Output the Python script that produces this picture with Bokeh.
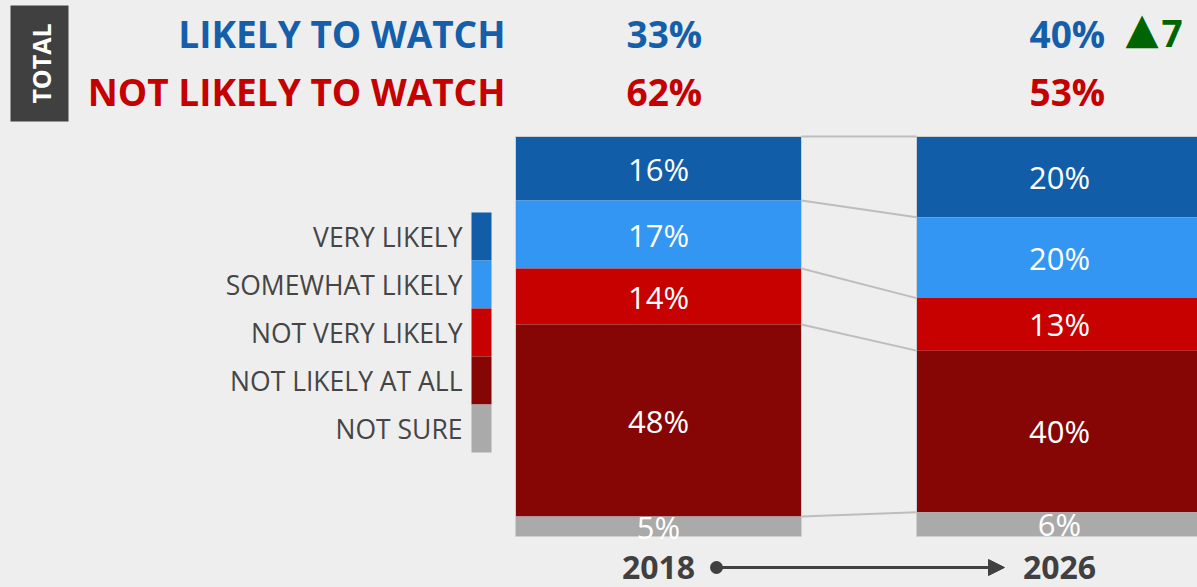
import numpy as np
from bokeh.plotting import figure
from bokeh.models import Range1d, ColumnDataSource, Arrow, NormalHead
from bokeh.core.properties import value
from bokeh.embed import file_html
from bokeh.resources import INLINE

# ---------------- data ----------------
years = ["2018", "2026"]
categories = ["VERY LIKELY", "SOMEWHAT LIKELY", "NOT VERY LIKELY", "NOT LIKELY AT ALL", "NOT SURE"]
share_2018 = [16, 17, 14, 48, 5]
share_2026 = [20, 20, 13, 40, 6]
likely_total = [33, 40]
not_likely_total = [62, 53]
colors = ["#125DA8", "#3396F2", "#C70000", "#860606", "#AAAAAA"]

# ---------------- layout ----------------
W, H = 1197, 587
PX = 4.0                     # pixels per percentage point
BAR_BOTTOM = 536             # pixel y of bar bottom
bar_centers = [658, 1059]
bar_width = 286
FONT = "Open Sans"
BG = "#EEEEEE"

def ydat(img_y):
    return (BAR_BOTTOM - img_y) / PX

p = figure(width=W, height=H, output_backend="svg", toolbar_location=None,
           x_range=Range1d(0, W), y_range=Range1d(ydat(H), ydat(0)),
           x_axis_type=None, y_axis_type=None, min_border=0,
           background_fill_color=BG, border_fill_color=BG, outline_line_color=None)
p.grid.visible = False

# ---------------- stacked bars ----------------
bounds = []
for shares, xc in zip([share_2018, share_2026], bar_centers):
    vals = np.array(shares, dtype=float)
    vals = vals * 100.0 / vals.sum()
    tops = 100 - np.concatenate([[0], np.cumsum(vals)[:-1]])
    bots = tops - vals
    bounds.append(tops)
    src = ColumnDataSource(dict(left=[xc - bar_width / 2] * len(vals),
                                right=[xc + bar_width / 2] * len(vals),
                                top=tops, bottom=bots, color=colors,
                                mid=(tops + bots) / 2,
                                x=[xc] * len(vals),
                                label=[f"{s}%" for s in shares]))
    p.quad(left="left", right="right", top="top", bottom="bottom", fill_color="color",
           line_color=None, source=src)
    p.quad(left=[xc - bar_width / 2], right=[xc + bar_width / 2], top=[100], bottom=[0],
           fill_color=None, line_color="#CFCFCF", line_width=1)
    p.text(x="x", y="mid", text="label", source=src, text_color="white",
           text_font=value(FONT), text_font_size="31px", text_align="center",
           text_baseline="middle")

# connectors between the bars
x_l = bar_centers[0] + bar_width / 2
x_r = bar_centers[1] - bar_width / 2
for i in range(len(categories)):
    p.line([x_l, x_r], [bounds[0][i], bounds[1][i]], line_color="#BDBDBD", line_width=2)

# ---------------- legend ----------------
leg_y = [ydat(236 + 48 * i) for i in range(len(categories))]
p.rect(x=[481] * len(categories), y=leg_y, width=20, height=12, fill_color=colors, line_color=None)
p.text(x=[462] * len(categories), y=leg_y, text=categories, text_color="#454545",
       text_font=value(FONT), text_font_size="26.5px", text_align="right", text_baseline="middle")

# ---------------- header ----------------
p.quad(left=[10], right=[68], top=[ydat(5)], bottom=[ydat(121)], fill_color="#404040", line_color=None)
p.text(x=[40], y=[ydat(63)], text=["TOTAL"], angle=np.pi / 2, text_color="white",
       text_font=value(FONT), text_font_style="bold", text_font_size="25px",
       text_align="center", text_baseline="middle")

y_like, y_not = ydat(33), ydat(91)
HFS = "37px"
p.text(x=[505], y=[y_like], text=["LIKELY TO WATCH"], text_color="#155FAA",
       text_font=value(FONT), text_font_style="bold", text_font_size=HFS,
       text_align="right", text_baseline="middle")
p.text(x=[505], y=[y_not], text=["NOT LIKELY TO WATCH"], text_color="#C50000",
       text_font=value(FONT), text_font_style="bold", text_font_size=HFS,
       text_align="right", text_baseline="middle")
hx = [bar_centers[0] - 32, bar_centers[1] - 30]
p.text(x=hx, y=[y_like] * 2, text=[f"{v}%" for v in likely_total], text_color="#155FAA",
       text_font=value(FONT), text_font_style="bold", text_font_size=HFS,
       text_align="left", text_baseline="middle")
p.text(x=hx, y=[y_not] * 2, text=[f"{v}%" for v in not_likely_total], text_color="#C50000",
       text_font=value(FONT), text_font_style="bold", text_font_size=HFS,
       text_align="left", text_baseline="middle")
change = likely_total[1] - likely_total[0]
p.text(x=[1125], y=[ydat(27)], text=["▲"], text_color="#006400",
       text_font=value("DejaVu Sans"), text_font_size="43px",
       text_align="left", text_baseline="alphabetic")
p.text(x=[1161], y=[y_like], text=[f"{change}"], text_color="#006400",
       text_font=value(FONT), text_font_style="bold", text_font_size=HFS,
       text_align="left", text_baseline="middle")

# ---------------- year axis ----------------
y_year = ydat(567)
p.text(x=bar_centers, y=[ydat(567)] * 2, text=years, text_color="#404040",
       text_font=value(FONT), text_font_style="bold", text_font_size="32px",
       text_align="center", text_baseline="middle")
p.scatter(x=[716], y=[y_year], size=13, marker="circle", fill_color="#404040", line_color=None)
p.add_layout(Arrow(x_start=716, y_start=y_year, x_end=1004, y_end=y_year,
                   line_color="#404040", line_width=3,
                   end=NormalHead(size=16, fill_color="#404040", line_color="#404040")))

html = file_html(p, INLINE, title="Likely to watch")
html = html.replace("</head>",
                    "<style>html,body{background:#EEEEEE;margin:0;padding:0;overflow:hidden;}</style></head>", 1)
open("out.html", "w").write(html)
